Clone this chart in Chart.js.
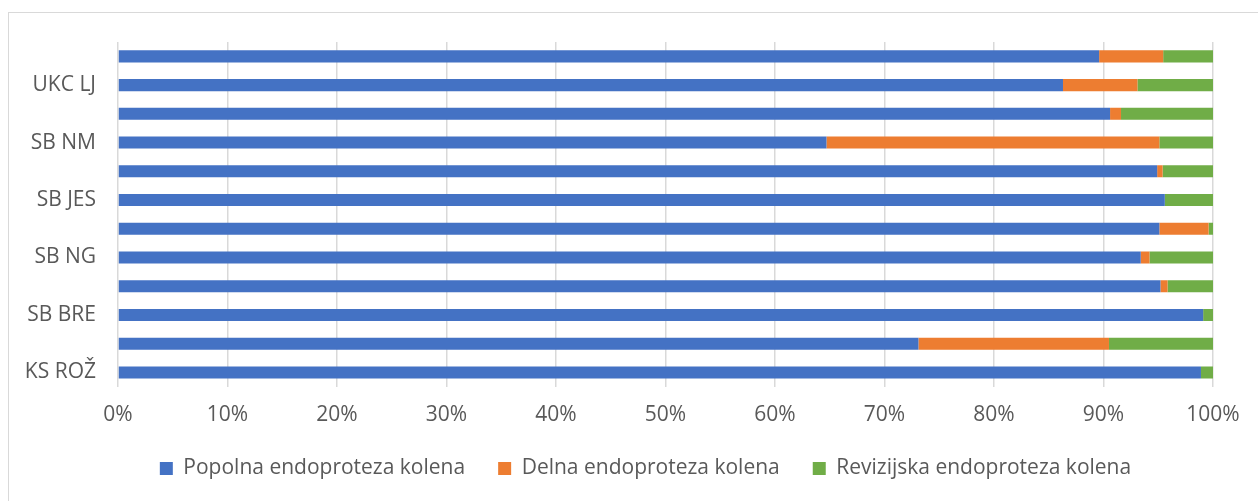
<!DOCTYPE html>
<html>
<head>
<meta charset="utf-8">
<script src="https://cdn.jsdelivr.net/npm/chart.js@4.4.0/dist/chart.umd.min.js"></script>
<style>
  html, body { margin: 0; padding: 0; background: #fff; overflow: hidden; }
  #wrap { position: relative; width: 1258px; height: 501px; }
  #frame { position: absolute; left: 8px; top: 12px; width: 1300px; height: 600px;
           border-left: 1.5px solid #d9d9d9; border-top: 1.5px solid #d9d9d9; }
  #diagram { position: absolute; left: 0; top: 0; }
</style>
</head>
<body>
<div id="wrap">
  <div id="frame"></div>
  <canvas id="diagram" width="1258" height="501"></canvas>
</div>
<script>
// top to bottom, as in the picture; only every other label is shown
const bolnisnice = ["UKC MB", "UKC LJ", "SB SG", "SB NM", "SB MS", "SB JES",
  "SB IZ", "SB NG", "SB CE", "SB BRE", "OB VALD", "KS ROŽ"];
const popolna = [89.6, 86.3, 90.6, 64.7, 94.9, 95.6, 95.1, 93.4, 95.2, 99.1, 73.1, 98.9];
const delna = [5.85, 6.8, 1.0, 30.4, 0.5, 0, 4.5, 0.8, 0.65, 0, 17.4, 0];
const revizijska = [4.55, 6.9, 8.4, 4.9, 4.6, 4.4, 0.4, 5.8, 4.15, 0.9, 9.5, 1.1];
const xTicks = [0, 10, 20, 30, 40, 50, 60, 70, 80, 90, 100];

const font = { family: "'Open Sans', sans-serif", size: 21 };
const ctx = document.querySelector("#diagram").getContext("2d");

const set = (label, data, color) => ({
  label: label,
  data: data,
  backgroundColor: color,
  borderWidth: 0,
  categoryPercentage: 1,
  barPercentage: 0.42,
});

// legend in the picture is centred a bit to the right of the plot
const shiftLegend = {
  id: "shiftLegend",
  afterLayout(chart) {
    chart.legend.left += 39;
    chart.legend.right += 39;
  },
};

new Chart(ctx, {
  type: "bar",
  data: {
    labels: bolnisnice,
    datasets: [
      set("Popolna endoproteza kolena", popolna, "#4472C4"),
      set("Delna endoproteza kolena", delna, "#ED7D31"),
      set("Revizijska endoproteza kolena", revizijska, "#70AD47"),
    ],
  },
  options: {
    indexAxis: "y",
    responsive: false,
    animation: false,
    layout: { padding: { top: 42, right: 45, bottom: 12, left: 0 } },
    scales: {
      x: {
        stacked: true,
        min: 0,
        max: 100,
        afterBuildTicks: (s) => { s.ticks = xTicks.map((v) => ({ value: v })); },
        afterFit: (s) => { s.height -= 19; },
        ticks: {
          color: "#595959",
          font: font,
          padding: 16,
          callback: (v) => v + "%",
        },
        grid: { color: "#d9d9d9", lineWidth: 1.5, drawTicks: false },
        border: { display: false },
      },
      y: {
        stacked: true,
        afterFit: (s) => { s.width = 118; },
        ticks: {
          color: "#595959",
          font: font,
          padding: 22,
          autoSkip: false,
          callback: (v, i) => (i % 2 === 1 ? bolnisnice[i] : ""),
        },
        grid: { display: false, drawTicks: false },
        border: { display: false },
      },
    },
    plugins: {
      tooltip: { enabled: false },
      legend: {
        position: "bottom",
        labels: {
          color: "#595959",
          font: font,
          boxWidth: 13,
          boxHeight: 13,
          padding: 33,
        },
      },
    },
  },
  plugins: [shiftLegend],
});
</script>
</body>
</html>
